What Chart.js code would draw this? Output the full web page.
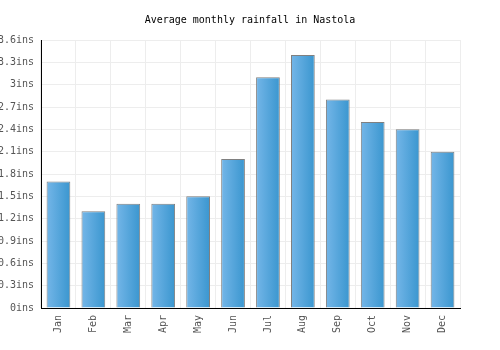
<!DOCTYPE html>
<html lang="en">
<head>
    <meta charset="UTF-8">
    <title>Average monthly rainfall in Nastola</title>
    <script src="https://cdn.jsdelivr.net/npm/chart.js"></script>
    <style>
        html, body { margin: 0; padding: 0; background: #fff; }
        #wrap { width: 500px; height: 350px; }
    </style>
</head>
<body>
    <div id="wrap"><canvas id="rainChart" width="500" height="350"></canvas></div>

    <script>
        // data
        const months = ['Jan', 'Feb', 'Mar', 'Apr', 'May', 'Jun', 'Jul', 'Aug', 'Sep', 'Oct', 'Nov', 'Dec'];
        const rainfall = [1.7, 1.3, 1.4, 1.4, 1.5, 2.0, 3.1, 3.4, 2.8, 2.5, 2.4, 2.1];
        const yMax = 3.6;
        const yStep = 0.3;

        const BAR_PCT = 0.68;
        const monoFont = { family: '"DejaVu Sans Mono", monospace', size: 10 };

        // horizontal gradient per bar, light on the left, darker on the right
        function barGradient(c) {
            const chart = c.chart;
            const xs = chart.scales.x;
            if (!chart.chartArea || !xs || c.dataIndex === undefined) return '#55a5dc';
            const cx = xs.getPixelForValue(c.dataIndex);
            const half = (chart.chartArea.width / months.length) * BAR_PCT / 2;
            const g = chart.ctx.createLinearGradient(cx - half, 0, cx + half, 0);
            g.addColorStop(0, '#74b6e8');
            g.addColorStop(1, '#3a96cf');
            return g;
        }

        const ctx = document.getElementById('rainChart').getContext('2d');
        const rainChart = new Chart(ctx, {
            type: 'bar',
            data: {
                labels: months,
                datasets: [{
                    label: 'Rainfall',
                    data: rainfall,
                    backgroundColor: barGradient,
                    borderColor: '#808080',
                    borderWidth: 1,
                    borderSkipped: 'bottom',
                    barPercentage: BAR_PCT,
                    categoryPercentage: 1
                }]
            },
            options: {
                responsive: false,
                animation: false,
                layout: { padding: 0 },
                plugins: {
                    legend: { display: false },
                    tooltip: { enabled: false },
                    title: {
                        display: true,
                        text: 'Average monthly rainfall in Nastola',
                        color: '#000',
                        font: { family: monoFont.family, size: 10, weight: 'normal' },
                        padding: { top: 14, bottom: 14 }
                    }
                },
                scales: {
                    x: {
                        grid: { color: '#ededed', drawTicks: false, offset: true },
                        border: { color: '#000', width: 1 },
                        ticks: {
                            color: '#555',
                            font: monoFont,
                            minRotation: 90,
                            maxRotation: 90,
                            padding: 7
                        },
                        afterFit: s => { s.height = 42; }
                    },
                    y: {
                        min: 0,
                        max: yMax,
                        grid: { color: '#ededed', drawTicks: false },
                        border: { color: '#000', width: 1 },
                        ticks: {
                            stepSize: yStep,
                            color: '#555',
                            font: monoFont,
                            padding: 7,
                            callback: v => parseFloat(v.toFixed(1)) + 'ins'
                        },
                        afterFit: s => { s.width = 41; }
                    },
                    // empty right-hand axis, only reserves the blank margin
                    // so the title stays centred on the whole canvas
                    yRight: {
                        position: 'right',
                        min: 0,
                        max: yMax,
                        grid: { display: false, drawOnChartArea: false },
                        border: { display: false },
                        ticks: { display: false },
                        afterFit: s => { s.width = 40; }
                    }
                }
            }
        });
    </script>
</body>
</html>
